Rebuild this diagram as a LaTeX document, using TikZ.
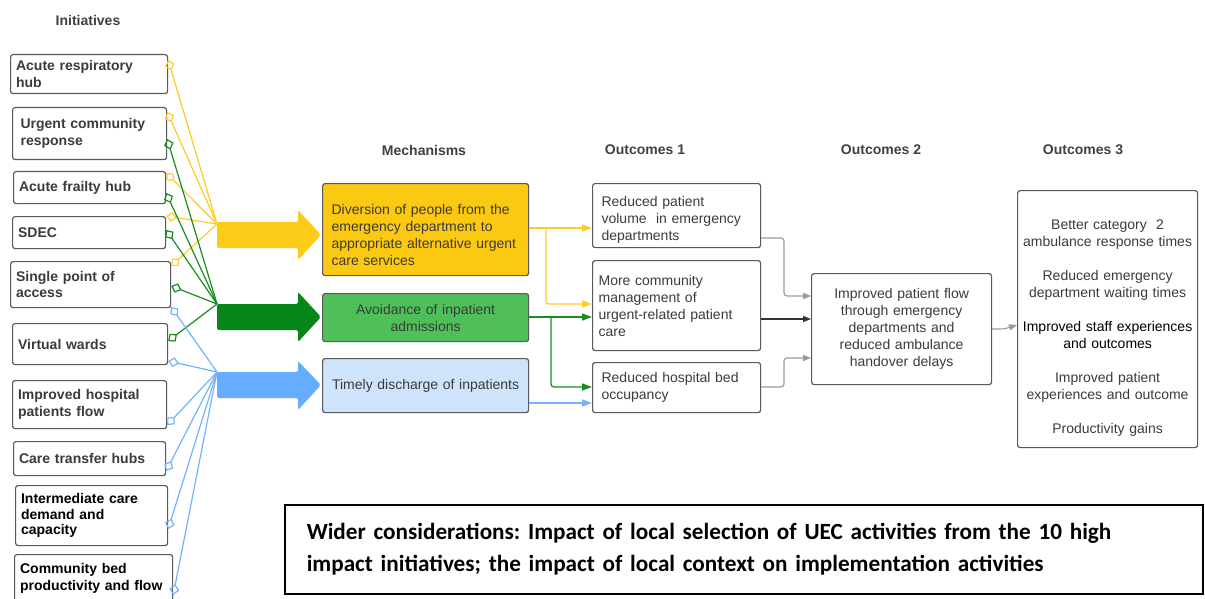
\documentclass[tikz,border=0pt]{standalone}
\usepackage{fontspec}
\setmainfont{Liberation Sans}
\newfontfamily\carlito{Carlito}
\usetikzlibrary{arrows.meta}

\begin{document}
\frenchspacing
\begin{tikzpicture}[x=1pt,y=-1pt,
	ibox/.style={draw=cbd,line width=1.2pt,rounded corners=2.5pt,fill=white,anchor=north west,align=left,inner xsep=5.5pt,inner ysep=2pt,text=ctx,font=\fontsize{14}{16.5}\selectfont\bfseries},
	mbox/.style={draw=cbd,line width=1.2pt,rounded corners=2.5pt,anchor=north west,inner ysep=2pt,text=ctx,font=\fontsize{14}{17}\selectfont},
	head/.style={text=chd,font=\fontsize{14}{17}\selectfont\bfseries},
	ylink/.style={cy,line width=1.2pt,arrows={Diamond[open,length=11pt,width=10pt]-}},
	glink/.style={cg,line width=1.2pt,arrows={Diamond[open,length=11pt,width=10pt]-}},
	blink/.style={cb,line width=1.2pt,arrows={Diamond[open,length=11pt,width=10pt]-}},
	yarw/.style={cy,line width=1.3pt,rounded corners=3pt,-{Triangle[length=10pt,width=7pt]}},
	garw/.style={cg,line width=1.3pt,rounded corners=3pt,-{Triangle[length=10pt,width=7pt]}},
	barw/.style={cb,line width=1.3pt,rounded corners=3pt,-{Triangle[length=10pt,width=7pt]}},
	larw/.style={clg,line width=1.1pt,rounded corners=3pt,-{Triangle[length=8pt,width=6pt]}},
	darw/.style={cdk,line width=1.1pt,-{Triangle[length=8pt,width=6pt]}}]
			\definecolor{cbd}{rgb}{0.35,0.35,0.35}
			\definecolor{ctx}{rgb}{0.23,0.23,0.23}
			\definecolor{chd}{rgb}{0.25,0.25,0.25}
			\definecolor{cy}{rgb}{1.0,0.80,0.15}
			\definecolor{cg}{rgb}{0.10,0.55,0.12}
			\definecolor{cb}{rgb}{0.45,0.70,1.0}
			\definecolor{cfy}{rgb}{0.99,0.79,0.07}
			\definecolor{cfg}{rgb}{0.31,0.75,0.35}
			\definecolor{cfb}{rgb}{0.81,0.89,0.98}
			\definecolor{cay}{rgb}{0.99,0.80,0.10}
			\definecolor{cag}{rgb}{0.03,0.53,0.10}
			\definecolor{cab}{rgb}{0.40,0.68,1.0}
			\definecolor{clg}{rgb}{0.60,0.60,0.60}
			\definecolor{cdk}{rgb}{0.20,0.20,0.20}
			\useasboundingbox (0,0) rectangle (1205,599);
			%
			\node[head] (h1) at (88,20) {Initiatives};
			\node[head] (h2) at (424,150) {Mechanisms};
			\node[head] (h3) at (645,150) {Outcomes 1};
			\node[head] (h4) at (881,150) {Outcomes 2};
			\node[head] (h5) at (1083,150) {Outcomes 3};
			%
			\node[ibox,minimum width=157,minimum height=39,text width=146] (i1) at (10,54) {Acute respiratory\\hub};
			\node[ibox,minimum width=154,minimum height=52,text width=138,inner xsep=8pt] (i2) at (12,107) {Urgent community\\response};
			\node[ibox,minimum width=152,minimum height=32,text width=141] (i3) at (13,171) {Acute frailty hub};
			\node[ibox,minimum width=153,minimum height=32,text width=142] (i4) at (12,216) {SDEC};
			\node[ibox,minimum width=160,minimum height=46,text width=149] (i5) at (10,261) {Single point of\\access};
			\node[ibox,minimum width=155,minimum height=41,text width=144] (i6) at (12,323) {Virtual wards};
			\node[ibox,minimum width=154,minimum height=48,text width=143] (i7) at (12,380) {Improved hospital\\patients flow};
			\node[ibox,minimum width=152,minimum height=34,text width=141] (i8) at (13,441) {Care transfer hubs};
			\node[ibox,minimum width=152,minimum height=60,text width=141,text=black,font=\fontsize{14}{15.5}\selectfont\bfseries] (i9) at (15,485) {Intermediate care\\demand and\\capacity};
			\node[ibox,minimum width=158,minimum height=48,text width=147,text=black] (i10) at (14,554) {Community bed\\productivity and flow};
			%
			\coordinate (yc) at (217,224);
			\coordinate (gc) at (217,304);
			\coordinate (bc) at (217,372);
			\fill[cay,rounded corners=2pt] (217,222) -- (298,222) -- (298,210) -- (321,235) -- (298,260) -- (298,248) -- (217,248) -- cycle;
			\fill[cag,rounded corners=2pt] (217,304) -- (298,304) -- (298,292) -- (321,317) -- (298,342) -- (298,330) -- (217,330) -- cycle;
			\fill[cab,rounded corners=2pt] (217,372) -- (298,372) -- (298,361) -- (321,385) -- (298,410) -- (298,398) -- (217,398) -- cycle;
			%
			\draw[ylink] (i1.east |- 0,60) -- (yc);
			\draw[ylink] (i2.east |- 0,112) -- (yc);
			\draw[ylink] (i3.east |- 0,173) -- (yc);
			\draw[ylink] (i4.east |- 0,216) -- (yc);
			\draw[ylink] (i5.east |- 0,266) -- (yc);
			\draw[glink] (i2.east |- 0,139) -- (gc);
			\draw[glink] (i3.east |- 0,193) -- (gc);
			\draw[glink] (i4.east |- 0,230) -- (gc);
			\draw[glink] (i5.east |- 0,286) -- (gc);
			\draw[glink] (i6.east |- 0,341) -- (gc);
			\draw[blink] (i5.east |- 0,307) -- (bc);
			\draw[blink] (i6.east |- 0,361) -- (bc);
			\draw[blink] (i7.east |- 0,425) -- (bc);
			\draw[blink] (i8.east |- 0,471) -- (bc);
			\draw[blink] (i9.east |- 0,529) -- (bc);
			\draw[blink] (i10.east |- 0,595) -- (bc);
			%
			\node[mbox,fill=cfy,minimum width=206,minimum height=92,text width=188,inner xsep=9pt,align=left] (m1) at (322,183) {\rule{0pt}{21pt}Diversion of people from the\\emergency department to\\appropriate alternative urgent\\care services};
			\node[mbox,fill=cfg,minimum width=206,minimum height=48,text width=188,inner xsep=9pt,align=center] (m2) at (322,293) {Avoidance of inpatient\\admissions};
			\node[mbox,fill=cfb,minimum width=206,minimum height=54,text width=188,inner xsep=9pt,align=center] (m3) at (322,358) {Timely discharge of inpatients};
			%
			\node[mbox,fill=white,minimum width=168,minimum height=64,text width=150,inner xsep=9pt,align=left] (a1) at (592,183) {\rule{0pt}{19pt}Reduced patient\\volume\ \ in emergency\\departments};
			\node[mbox,fill=white,minimum width=168,minimum height=90,text width=156,inner xsep=6pt,align=left] (a2) at (592,260) {More community\\management of\\urgent-related patient\\care};
			\node[mbox,fill=white,minimum width=168,minimum height=50,text width=150,inner xsep=9pt,align=left] (a3) at (592,362) {Reduced hospital bed\\occupancy};
			%
			\node[mbox,fill=white,minimum width=180,minimum height=111,text width=170,inner xsep=5pt,align=center] (b1) at (811,273) {Improved patient flow\\through emergency\\departments and\\reduced ambulance\\handover delays};
			\node[mbox,fill=white,minimum width=180,minimum height=257,text width=176,inner xsep=2pt,align=center] (c1) at (1017,190) {\rule{0pt}{27pt}Better category\ \ 2\\ambulance response times\\[17pt]Reduced emergency\\department waiting times\\[17pt]\textcolor{black}{Improved staff experiences}\\\textcolor{black}{and outcomes}\\[17pt]Improved patient\\experiences and outcome\\[17pt]Productivity gains};
			%
			\coordinate (yj) at (546,228);
			\coordinate (gj) at (551,317);
			\draw[yarw] (m1.east |- 0,228) -- (a1.west |- 0,228);
			\draw[yarw] (yj) |- (a2.west |- 0,304);
			\draw[garw] (m2.east |- 0,317) -- (a2.west |- 0,317);
			\draw[garw] (gj) |- (a3.west |- 0,387);
			\draw[barw] (m3.east |- 0,403) -- (a3.west |- 0,403);
			%
			\draw[larw] (a1.east |- 0,238) -| (784,296) -- (b1.west |- 0,296);
			\draw[darw] (a2.east |- 0,319) -- (b1.west |- 0,319);
			\draw[larw] (a3.east |- 0,387) -| (784,358) -- (b1.west |- 0,358);
			\draw[larw] (b1.east |- 0,329) -- (1004,329) -- (c1.west |- 0,325);
			%
			\node[draw=black,line width=1.5pt,anchor=north west,minimum width=918,minimum height=89,text width=874,inner xsep=22pt,align=left,font=\carlito\fontsize{23.2}{32}\selectfont\bfseries] (w1) at (284,504) {Wider considerations: Impact of local selection of UEC activities from the 10 high\\impact initiatives; the impact of local context on implementation activities};
			%
		\end{tikzpicture}
\end{document}
